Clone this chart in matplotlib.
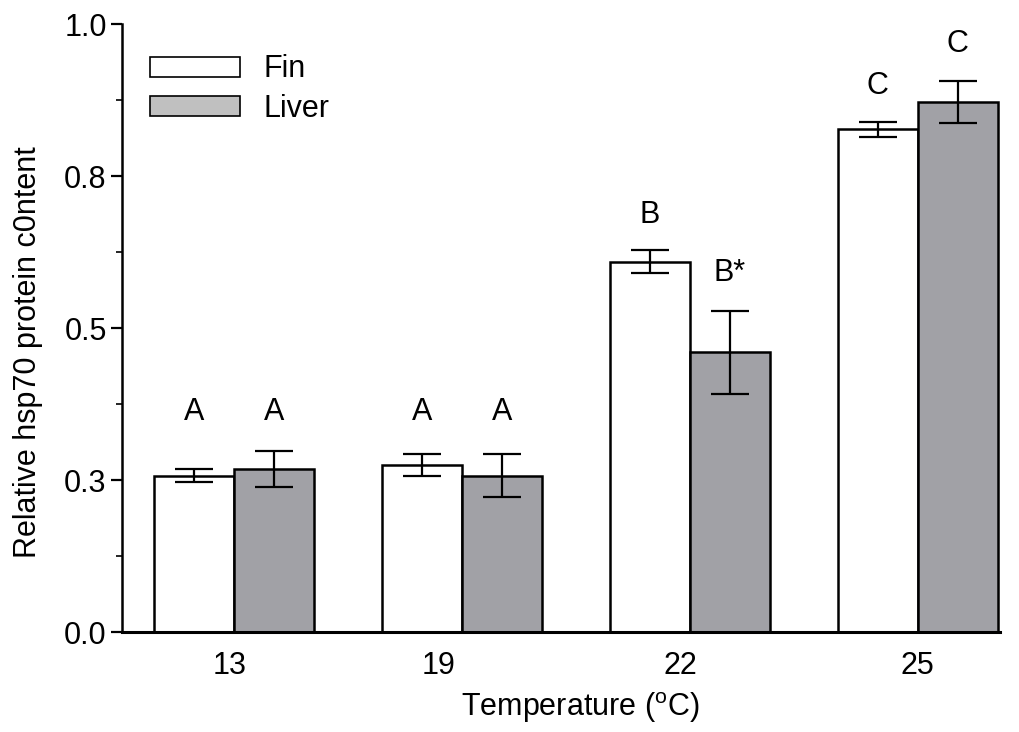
import matplotlib
matplotlib.use("Agg")
import matplotlib.pyplot as plt
from matplotlib.patches import Patch
import numpy as np

plt.rcParams['font.family'] = ['Liberation Sans', 'DejaVu Sans']
plt.rcParams['mathtext.fontset'] = 'custom'
plt.rcParams['mathtext.rm'] = 'Liberation Sans'

# data
temps = ["13", "19", "22", "25"]
fin = [0.257, 0.275, 0.609, 0.827]
fin_err = [0.011, 0.018, 0.019, 0.0125]
liver = [0.268, 0.257, 0.460, 0.872]
liver_err = [0.030, 0.035, 0.068, 0.035]

fin_letters = ["A", "A", "B", "C"]
liver_letters = ["A", "A", "B*", "C"]
fin_letter_y = [0.362, 0.362, 0.686, 0.898]
liver_letter_y = [0.362, 0.362, 0.590, 0.967]

yticks = [0.0, 0.25, 0.5, 0.75, 1.0]
ytick_labels = ["0.0", "0.3", "0.5", "0.8", "1.0"]

liver_col = "#a1a1a6"
fs = 22

fig = plt.figure(figsize=(10.19, 7.32), dpi=100)
ax = fig.add_axes([0.1197, 0.1366, 0.8613, 0.8306])

x = np.arange(len(temps))
w = 0.351
ax.bar(x - w/2, fin, w, color="white", edgecolor="black", linewidth=1.8,
       yerr=fin_err, error_kw=dict(ecolor="black", elinewidth=1.6, capsize=14, capthick=1.6))
ax.bar(x + w/2, liver, w, color=liver_col, edgecolor="black", linewidth=1.8,
       yerr=liver_err, error_kw=dict(ecolor="black", elinewidth=1.6, capsize=14, capthick=1.6))

for i in range(len(temps)):
    ax.text(x[i] - w/2, fin_letter_y[i], fin_letters[i], ha="center", va="center", fontsize=fs)
    ax.text(x[i] + w/2, liver_letter_y[i], liver_letters[i], ha="center", va="center", fontsize=fs)

ax.set_xlim(-0.491, 3.36)
ax.set_ylim(0, 1.0)
# the labels in the original sit a little off the group centres
ax.set_xticks(x + np.array([-0.02, -0.1, -0.04, 0.0]))
ax.set_xticklabels(temps, fontsize=fs)
ax.tick_params(axis="x", length=0, pad=14)
ax.set_yticks(yticks)
ax.set_yticklabels(ytick_labels, fontsize=fs)
ax.set_yticks([0.125, 0.375, 0.625, 0.875], minor=True)
ax.tick_params(axis="y", which="major", length=8, width=1.6, direction="out", pad=3)
ax.tick_params(axis="y", which="minor", length=4, width=1.2, direction="out")

for s in ["top", "right"]:
    ax.spines[s].set_visible(False)
ax.spines["left"].set_linewidth(1.8)
ax.spines["bottom"].set_linewidth(2.2)

ax.set_xlabel("Temperature ($^{\\mathrm{o}}$C)", fontsize=fs)
ax.xaxis.set_label_coords(0.522, -0.095)
ax.set_ylabel("Relative hsp70 protein c0ntent", fontsize=fs)
ax.yaxis.set_label_coords(-0.09, 0.46)

handles = [Patch(facecolor="white", edgecolor="black", linewidth=1.2, label="Fin"),
           Patch(facecolor="#c0c0c0", edgecolor="black", linewidth=1.2, label="Liver")]
ax.legend(handles=handles, loc="upper left", bbox_to_anchor=(0.018, 0.97), frameon=False,
          fontsize=fs, handlelength=2.95, handleheight=0.62, handletextpad=0.75,
          labelspacing=0.3, borderaxespad=0.0)

fig.savefig("out.png", dpi=100)
